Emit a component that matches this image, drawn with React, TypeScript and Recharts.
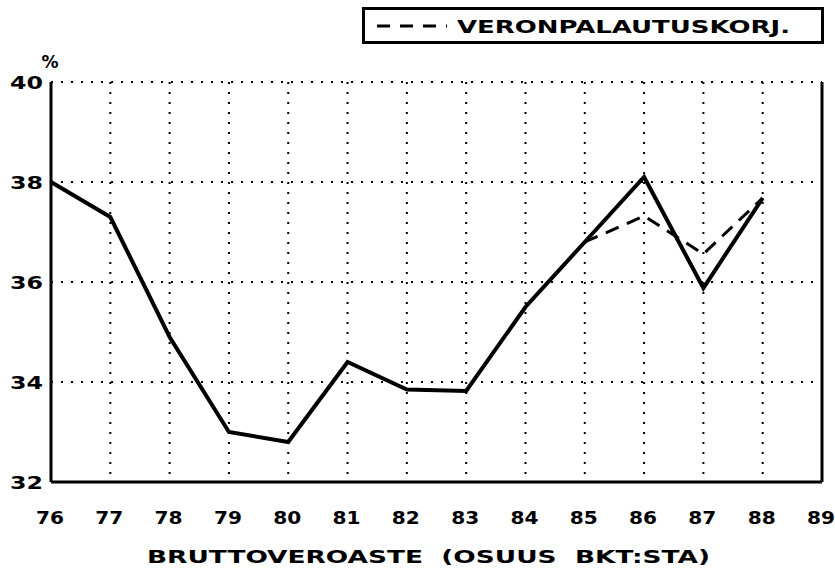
import React from 'react';
import { LineChart, Line, XAxis, YAxis, CartesianGrid, ReferenceLine, Legend } from 'recharts';

const years = [76, 77, 78, 79, 80, 81, 82, 83, 84, 85, 86, 87, 88];
const grossTaxRate = [38.0, 37.3, 34.9, 33.0, 32.8, 34.4, 33.85, 33.82, 35.5, 36.8, 38.1, 35.88, 37.68];
const refundCorrected: (number | null)[] = [null, null, null, null, null, null, null, null, null, 36.8, 37.32, 36.56, 37.68];
const xTicks = [76, 77, 78, 79, 80, 81, 82, 83, 84, 85, 86, 87, 88, 89];
const yTicks = [32, 34, 36, 38, 40];
const legendLabel = 'VERONPALAUTUSKORJ.';
const axisTitle = 'BRUTTOVEROASTE  (OSUUS  BKT:STA)';
const unitLabel = '%';

const data = years.map((y, i) => ({ year: y, gross: grossTaxRate[i], corrected: refundCorrected[i] }));

const FONT = '"DejaVu Sans", Verdana, sans-serif';

const XTick = (props: any) => {
  const { x, y, payload } = props;
  return (
    <text x={x - 1} y={y + 36} textAnchor="middle" dominantBaseline="central" fontFamily={FONT}
      fontWeight="bold" fontSize={17} fill="#000" textLength={28} lengthAdjust="spacingAndGlyphs">
      {payload.value}
    </text>
  );
};

const YTick = (props: any) => {
  const { x, y, payload } = props;
  return (
    <g>
      <text x={x} y={y} textAnchor="end" dominantBaseline="central" fontFamily={FONT}
        fontWeight="bold" fontSize={18} fill="#000" textLength={33} lengthAdjust="spacingAndGlyphs">
        {payload.value}
      </text>
      {payload.value === 40 && (
        <text x={x + 7} y={y - 20} textAnchor="middle" dominantBaseline="central" fontFamily={FONT}
          fontWeight="bold" fontSize={17} fill="#000">
          {unitLabel}
        </text>
      )}
    </g>
  );
};

const TitleLabel = (props: any) => {
  const vb = props.viewBox || { x: 51, y: 482, width: 771, height: 87 };
  return (
    <text x={vb.x + vb.width / 2 - 8} y={vb.y + 75} textAnchor="middle" dominantBaseline="central"
      fontFamily={FONT} fontWeight="bold" fontSize={17} fill="#000" textLength={563}
      lengthAdjust="spacingAndGlyphs" style={{ whiteSpace: 'pre' }}>
      {axisTitle}
    </text>
  );
};

const LegendBox = () => (
  <svg width={466} height={40} style={{ display: 'block' }}>
    <rect x={3.5} y={2.5} width={459} height={34} fill="#fff" stroke="#000" strokeWidth={3} />
    <line x1={17} y1={20} x2={87} y2={20} stroke="#000" strokeWidth={3} strokeDasharray="13 10" />
    <text x={97} y={20} dominantBaseline="central" fontFamily={FONT} fontWeight="bold" fontSize={18}
      fill="#000" textLength={333} lengthAdjust="spacingAndGlyphs">
      {legendLabel}
    </text>
  </svg>
);

export default function App() {
  return (
    <div style={{ position: 'absolute', left: 0, top: 0, width: 835, height: 569, background: '#fff' }}>
      <LineChart width={835} height={569} data={data} margin={{ top: 82, right: 13, bottom: 0, left: 0 }}>
        <CartesianGrid stroke="#000" strokeWidth={2} strokeDasharray="2 8" />
        <XAxis dataKey="year" type="number" domain={[76, 89]} ticks={xTicks} interval={0}
          height={87} tickLine={false} tickSize={0} tickMargin={0}
          axisLine={{ stroke: '#000', strokeWidth: 3 }} tick={<XTick />} label={<TitleLabel />} />
        <YAxis type="number" domain={[32, 40]} ticks={yTicks} interval={0} width={51}
          tickLine={false} tickSize={0} tickMargin={8}
          axisLine={{ stroke: '#000', strokeWidth: 3 }} tick={<YTick />} />
        <ReferenceLine x={89} stroke="#000" strokeWidth={3} />
        <Legend layout="horizontal" verticalAlign="middle" align="center" content={<LegendBox />}
          wrapperStyle={{ position: 'absolute', left: 360, top: 6, width: 466, height: 40 }} />
        <Line type="linear" dataKey="gross" stroke="#000" strokeWidth={4} dot={false}
          isAnimationActive={false} strokeLinejoin="miter" />
        <Line type="linear" dataKey="corrected" stroke="#000" strokeWidth={3} dot={false}
          strokeDasharray="14 9" isAnimationActive={false} connectNulls={false} />
      </LineChart>
    </div>
  );
}
